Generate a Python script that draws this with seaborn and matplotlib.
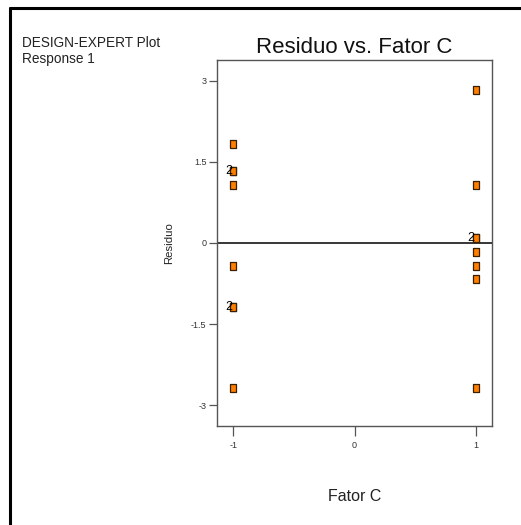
import matplotlib
matplotlib.use("Agg")
import matplotlib.pyplot as plt
import seaborn as sns
import pandas as pd
from matplotlib.lines import Line2D

# Data
factor_c = [-1, -1, -1, -1, -1, -1, -1, -1,
            1, 1, 1, 1, 1, 1, 1, 1]
residuo = [1.83, 1.33, 1.33, 1.07, -0.42, -1.18, -1.18, -2.67,
           2.83, 1.08, 0.09, 0.09, -0.17, -0.42, -0.66, -2.67]
y_ticks = [-3, -1.5, 0, 1.5, 3]
y_tick_labels = ["-3", "-1.5", "0", "1.5", "3"]
x_ticks = [-1, 0, 1]
x_tick_labels = ["-1", "0", "1"]

df = pd.DataFrame({"Fator C": factor_c, "Residuo": residuo})

sns.set_style("white")
plt.rcParams["font.family"] = ["Liberation Sans", "DejaVu Sans"]

fig = plt.figure(figsize=(5.21, 5.25), dpi=100)
ax = fig.add_axes([217 / 521, 1 - 426 / 525, 275 / 521, 366 / 525])

rect = [(-0.33, -0.5), (0.33, -0.5), (0.33, 0.5), (-0.33, 0.5), (-0.33, -0.5)]
sns.scatterplot(data=df, x="Fator C", y="Residuo", ax=ax, marker=rect, s=40,
                color="#ff7f00", edgecolor="#3a2000", linewidth=0.9, zorder=3)

# count labels for coincident points
counts = df.groupby(["Fator C", "Residuo"]).size().reset_index(name="n")
for _, r in counts[counts["n"] > 1].iterrows():
    ax.annotate(str(int(r["n"])), (r["Fator C"], r["Residuo"]),
                xytext=(-0.8, 0), textcoords="offset points",
                ha="right", va="center", fontsize=9, color="black", zorder=4)

ax.axhline(0, color="black", lw=1.1, zorder=2)

ax.set_xlim(-1.135, 1.135)
ax.set_ylim(-3.38, 3.38)
ax.set_xticks(x_ticks)
ax.set_xticklabels(x_tick_labels)
ax.set_yticks(y_ticks)
ax.set_yticklabels(y_tick_labels)
ax.tick_params(axis="both", bottom=True, left=True, direction="out", width=0.9,
               colors="#555555", labelsize=6.5, labelcolor="#333333")
ax.tick_params(axis="y", length=6, pad=1.5)
ax.tick_params(axis="x", length=7, pad=3.5)
for sp in ax.spines.values():
    sp.set_color("#555555")
    sp.set_linewidth(1.0)

ax.set_xlabel("Fator C", fontsize=11.5, labelpad=28.5, color="#222222")
ax.set_ylabel("Residuo", fontsize=8.2, labelpad=12, color="#222222")
ax.set_title("Residuo vs. Fator C", fontsize=16, pad=5, color="#111111")

fig.text(22 / 521, 1 - 47 / 525, "DESIGN-EXPERT Plot", fontsize=9.8,
         ha="left", va="baseline", color="#222222")
fig.text(22 / 521, 1 - 63 / 525, "Response 1", fontsize=9.8,
         ha="left", va="baseline", color="#222222")

# outer frame (partially visible)
fig.add_artist(Line2D([10 / 521, 1.0], [1 - 8 / 525, 1 - 8 / 525],
                      transform=fig.transFigure, color="black", lw=2.2))
fig.add_artist(Line2D([10 / 521, 10 / 521], [0.0, 1 - 8 / 525],
                      transform=fig.transFigure, color="black", lw=2.2))

fig.savefig("out.png", dpi=100)
